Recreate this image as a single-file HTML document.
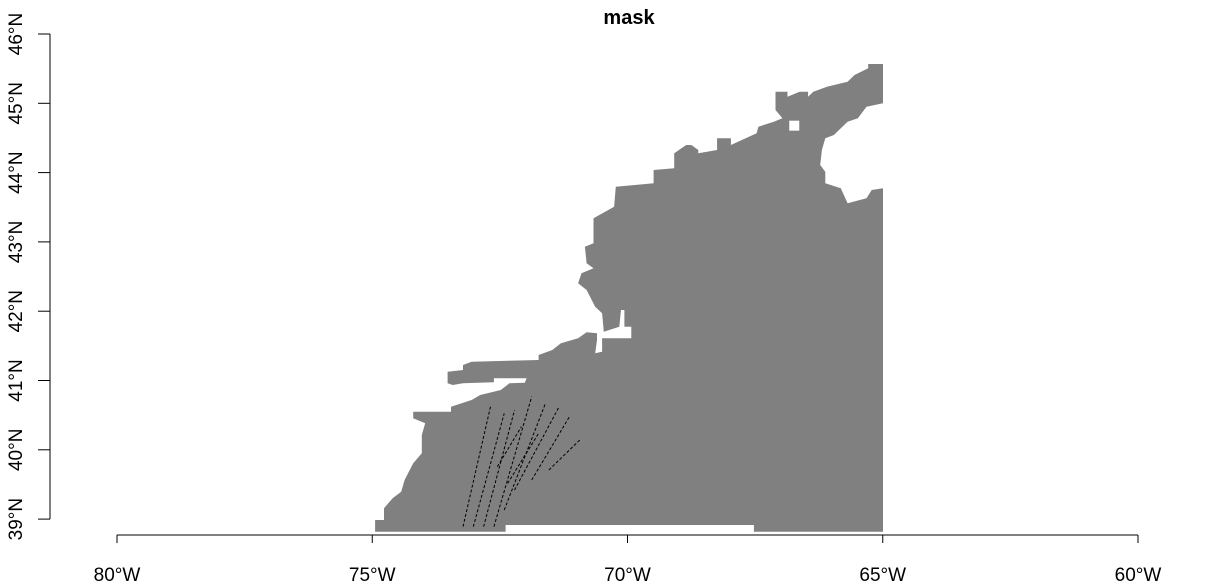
<!DOCTYPE html>
<html><head><meta charset="utf-8"><style>
body{margin:0;background:#fff;}
svg{display:block;font-family:"Liberation Sans",Arial,sans-serif;}
</style></head><body>
<svg id="map" width="1222" height="587" viewBox="0 0 1222 587">
<text x="629" y="24" text-anchor="middle" font-size="20" font-weight="bold">mask</text>
<g id="axes"></g>
<g id="layer"></g>
</svg>
<script>
const lonTicks=[-80,-75,-70,-65,-60];
const lonLabels=["80°W","75°W","70°W","65°W","60°W"];
const latTicks=[39,40,41,42,43,44,45,46];
const latLabels=["39°N","40°N","41°N","42°N","43°N","44°N","45°N","46°N"];
// mask outline traced (zoom-crop coordinates of reference)
const outline=[[44,1445],[44,1410],[70,1410],[70,1375],[95,1345],[120,1325],[130,1290],[155,1240],[180,1210],[180,1155],[190,1120],[155,1105],[155,1085],[265,1085],[265,1070],[325,1050],[350,1035],[410,1020],[435,1000],[480,998],[485,985],[390,985],[390,997],[300,1000],[270,1005],[255,1000],[255,965],[300,960],[300,945],[325,935],[520,930],[520,915],[560,900],[585,880],[635,865],[660,847],[690,850],[690,870],[685,910],[705,905],[705,865],[790,865],[790,830],[770,830],[770,780],[760,780],[755,830],[710,845],[705,790],[685,770],[660,720],[635,700],[645,670],[680,655],[660,640],[655,590],[680,580],[680,505],[740,470],[745,410],[800,405],[855,400],[855,360],[915,355],[915,310],[950,285],[965,285],[985,300],[985,310],[1040,300],[1040,265],[1080,265],[1080,285],[1155,250],[1160,230],[1205,215],[1230,205],[1210,180],[1210,125],[1245,125],[1245,140],[1280,125],[1305,125],[1305,140],[1320,125],[1360,110],[1420,95],[1440,75],[1480,55],[1480,42],[1523,42],[1523,160],[1475,170],[1450,205],[1420,215],[1400,235],[1380,255],[1355,265],[1345,300],[1340,345],[1355,365],[1355,400],[1400,415],[1420,460],[1475,445],[1490,420],[1523,415],[1523,1445],[1147,1445],[1147,1425],[424,1425],[424,1445]];
const NS="http://www.w3.org/2000/svg";
const SX=2.912, SY=3.0;
const px=v=>360+v/SX, py=v=>50+v/SY;
const xOf=lon=>117+(lon+80)*51.05;
const yOf=lat=>34+(46-lat)*69.3;
const axes=document.getElementById('axes');
const layer=document.getElementById('layer');
function mk(tag,attrs,parent){const e=document.createElementNS(NS,tag);for(const k in attrs)e.setAttribute(k,attrs[k]);parent.appendChild(e);return e;}
const pts=outline.map(p=>px(p[0]).toFixed(1)+","+py(p[1]).toFixed(1)).join(" ");
const poly=mk('polygon',{points:pts,fill:'#808080'},layer);


const hole=mk('rect',{x:px(1250),y:py(212),width:10,height:10,fill:'#fff'},layer);


const stripes=[[300,1430,380,1070],[330,1430,420,1090],[360,1430,450,1080],[390,1430,500,1040],[420,1380,540,1060],[450,1320,580,1070],[500,1290,610,1100],[550,1260,640,1170],[400,1250,470,1130],[430,1300,520,1150]];
stripes.forEach(s=>{const l=mk('line',{x1:px(s[0]),y1:py(s[1]),x2:px(s[2]),y2:py(s[3]),stroke:'#000','stroke-width':1,'stroke-dasharray':'3 2'},layer);

});
const xl=mk('line',{x1:xOf(-80),x2:xOf(-60),y1:535,y2:535,stroke:'#000'},axes);


lonTicks.forEach((v,i)=>{const x=xOf(v);
const t=mk('line',{x1:x,x2:x,y1:535,y2:543,stroke:'#000'},axes);


const tx=mk('text',{x:x,y:581,'text-anchor':'middle','font-size':'19'},axes);tx.textContent=lonLabels[i];

});
const yl=mk('line',{x1:50,x2:50,y1:yOf(46),y2:yOf(39),stroke:'#000'},axes);


latTicks.forEach((v,i)=>{const y=yOf(v);
const t=mk('line',{x1:38,x2:50,y1:y,y2:y,stroke:'#000'},axes);


const tx=mk('text',{x:22,y:y,'text-anchor':'middle','font-size':'19',transform:`rotate(-90 22 ${y})`},axes);tx.textContent=latLabels[i];

});
</script>
</body></html>
